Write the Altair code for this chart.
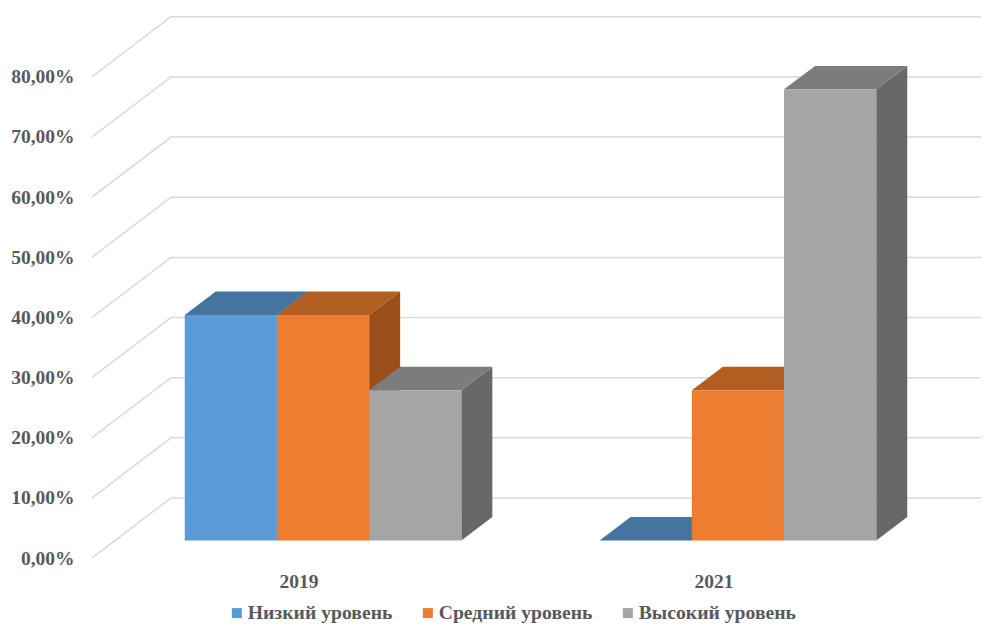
import altair as alt
import pandas as pd

YEARS = ["2019", "2021"]
SERIES = ["Низкий уровень", "Средний уровень", "Высокий уровень"]
LOW = [37.5, 0.0]
MID = [37.5, 25.0]
HIGH = [25.0, 75.0]
TICKS = [0, 10, 20, 30, 40, 50, 60, 70, 80]
FRONT = ["#5B9BD5", "#ED7D31", "#A5A5A5"]
TOP = ["#44749F", "#B25E22", "#7C7C7C"]
SIDE = ["#3A6A94", "#9A4F1B", "#686868"]

FONT = "Liberation Serif"
TXT = "#595959"
UNIT_PX = 92.2
Y_PX = 6.016
PLOT_W = 889
PLOT_H = 550
X_MAX = PLOT_W / UNIT_PX
Y_MAX = PLOT_H / Y_PX
WALL_DX, WALL_DY = 0.857, 9.97
BAR_DX, BAR_DY = 0.336, 3.9
BASE = 2.9
CAT_STEP, FIRST = 4.5, 1.006
LABEL_SHIFT = 1.235

x_scale = alt.Scale(domain=[0, X_MAX], nice=False, zero=False)
y_scale = alt.Scale(domain=[0, Y_MAX], nice=False, zero=False)

grid_rows = []
for t in TICKS:
    grid_rows += [
        {"t": t, "x": 0, "y": t},
        {"t": t, "x": WALL_DX, "y": t + WALL_DY},
        {"t": t, "x": X_MAX, "y": t + WALL_DY},
    ]
grid = alt.Chart(pd.DataFrame(grid_rows)).mark_line(color="#D9D9D9", strokeWidth=1.5, clip=True).encode(
    x=alt.X("x:Q", scale=x_scale,
            axis=alt.Axis(values=[FIRST + LABEL_SHIFT + i * CAT_STEP for i in range(len(YEARS))],
                          labelExpr=f"datum.value < {FIRST + LABEL_SHIFT + CAT_STEP / 2} ? '{YEARS[0]}' : '{YEARS[1]}'",
                          title=None, ticks=False, domain=False, grid=False,
                          labelFont=FONT, labelFontSize=19.5, labelFontWeight="bold", labelColor=TXT,
                          labelPadding=14)),
    y=alt.Y("y:Q", scale=y_scale,
            axis=alt.Axis(values=TICKS,
                          labelExpr="replace(format(datum.value, '.2f'), '.', ',') + '%'",
                          title=None, ticks=False, domain=False, grid=False,
                          labelFont=FONT, labelFontSize=19.5, labelFontWeight="bold", labelColor=TXT,
                          labelPadding=18)),
    detail="t:N",
)

layers = [grid]
front_rows = []
for s, (name, vals) in enumerate(zip(SERIES, [LOW, MID, HIGH])):
    side_rows, top_rows = [], []
    for c, (year, v) in enumerate(zip(YEARS, vals)):
        left = FIRST + c * CAT_STEP + s
        right = left + 1
        front_rows.append({"series": name, "x": left, "x2": right, "y": BASE, "y2": BASE + v})
        side_rows += [
            {"cat": year, "x": right, "y": BASE, "y2": BASE + v},
            {"cat": year, "x": right + BAR_DX, "y": BASE + BAR_DY, "y2": BASE + v + BAR_DY},
        ]
        top_rows += [
            {"cat": year, "y": BASE + v, "x": left, "x2": right},
            {"cat": year, "y": BASE + v + BAR_DY, "x": left + BAR_DX, "x2": right + BAR_DX},
        ]
    layers.append(alt.Chart(pd.DataFrame(side_rows)).mark_area(color=SIDE[s], orient="vertical").encode(
        x=alt.X("x:Q", scale=x_scale), y=alt.Y("y:Q", scale=y_scale), y2="y2:Q", detail="cat:N"))
    layers.append(alt.Chart(pd.DataFrame(top_rows)).mark_area(color=TOP[s], orient="horizontal").encode(
        y=alt.Y("y:Q", scale=y_scale), x=alt.X("x:Q", scale=x_scale), x2="x2:Q", detail="cat:N"))

fronts = alt.Chart(pd.DataFrame(front_rows)).mark_rect().encode(
    x=alt.X("x:Q", scale=x_scale), x2="x2:Q",
    y=alt.Y("y:Q", scale=y_scale), y2="y2:Q",
    color=alt.Color("series:N", scale=alt.Scale(domain=SERIES, range=FRONT),
                    legend=alt.Legend(title=None, orient="none", legendX=135, legendY=595,
                                      direction="horizontal", symbolType="square", symbolSize=100,
                                      symbolStrokeWidth=0, labelFont=FONT, labelFontSize=19.7,
                                      labelFontWeight="bold", labelColor=TXT, labelLimit=300,
                                      labelOffset=1, columnPadding=25)),
)
layers.append(fronts)

chart = alt.layer(*layers).properties(
    width=PLOT_W, height=PLOT_H,
    autosize=alt.AutoSizeParams(type="none"),
    padding={"left": 84, "top": 0, "right": 0, "bottom": 65},
).configure_view(stroke=None)

chart.save("out.html", embed_options={"renderer": "svg", "actions": False})
